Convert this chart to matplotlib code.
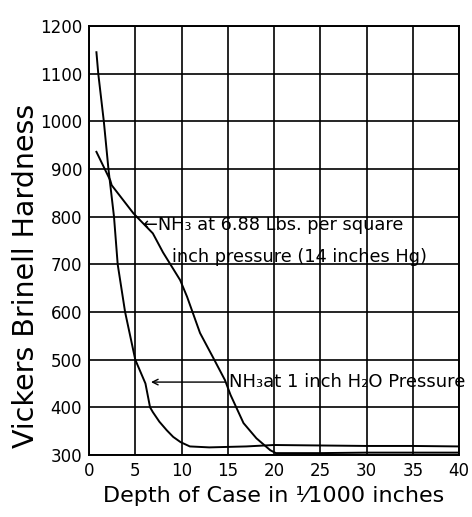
import matplotlib
matplotlib.use("Agg")
import matplotlib.pyplot as plt

# depth of case (1/1000 in) vs hardness
h2o_depth = [0.8, 1.0, 1.6, 2.1, 2.7, 3.1, 3.9, 5.0, 6.1, 6.6, 6.9, 7.6, 8.4, 9.1, 9.9, 10.9, 13, 15, 17, 20, 25, 30, 35, 40]
h2o_hard = [1145, 1100, 1000, 900, 800, 700, 600, 500, 450, 400, 390, 370, 352, 338, 327, 318, 316, 317, 318, 321, 320, 319, 319, 318]

lbs_depth = [0.8, 2.3, 2.45, 4.8, 6.9, 8.0, 9.85, 10.6, 12.0, 13.4, 14.7, 15.3, 16.7, 18.1, 19.6, 20.2, 25, 30, 35, 40]
lbs_hard = [936, 876, 866, 807, 765, 725, 667, 632, 556, 505, 457, 426, 367, 335, 310, 304, 304, 305, 305, 305]

xticks = [0, 5, 10, 15, 20, 25, 30, 35, 40]
yticks = [300, 400, 500, 600, 700, 800, 900, 1000, 1100, 1200]

plt.rcParams['font.family'] = ['DejaVu Sans']

fig = plt.figure(figsize=(4.72, 5.17), dpi=100)
ax = fig.add_axes([0.1886, 0.1199, 0.7839, 0.8298])

ax.plot(h2o_depth, h2o_hard, color='black', lw=1.4)
ax.plot(lbs_depth, lbs_hard, color='black', lw=1.4)

ax.set_xlim(0, 40)
ax.set_ylim(300, 1200)
ax.set_xticks(xticks)
ax.set_yticks(yticks)
ax.grid(True, color='black', lw=1.2)
for s in ax.spines.values():
    s.set_linewidth(1.4)
ax.tick_params(length=0, labelsize=12, pad=5)

ax.set_xlabel('Depth of Case in \u00b9\u20441000 inches', fontsize=16, labelpad=4)
ax.set_ylabel('Vickers Brinell Hardness', fontsize=20.5)
ax.yaxis.set_label_coords(-0.132, 0.417)

ax.text(5.8, 782, '\u2190NH\u2083 at 6.88 Lbs. per square', fontsize=12.8, va='center', ha='left')
ax.text(9.0, 715, 'inch pressure (14 inches Hg)', fontsize=12.8, va='center', ha='left')

ax.annotate('', xy=(6.4, 453), xytext=(15.0, 453),
            arrowprops=dict(arrowstyle='->', color='black', lw=1.0))
ax.text(15.1, 453, 'NH\u2083at 1 inch H\u2082O Pressure', fontsize=13, va='center', ha='left',
        clip_on=False)

fig.savefig('out.png', dpi=100, facecolor='white')
